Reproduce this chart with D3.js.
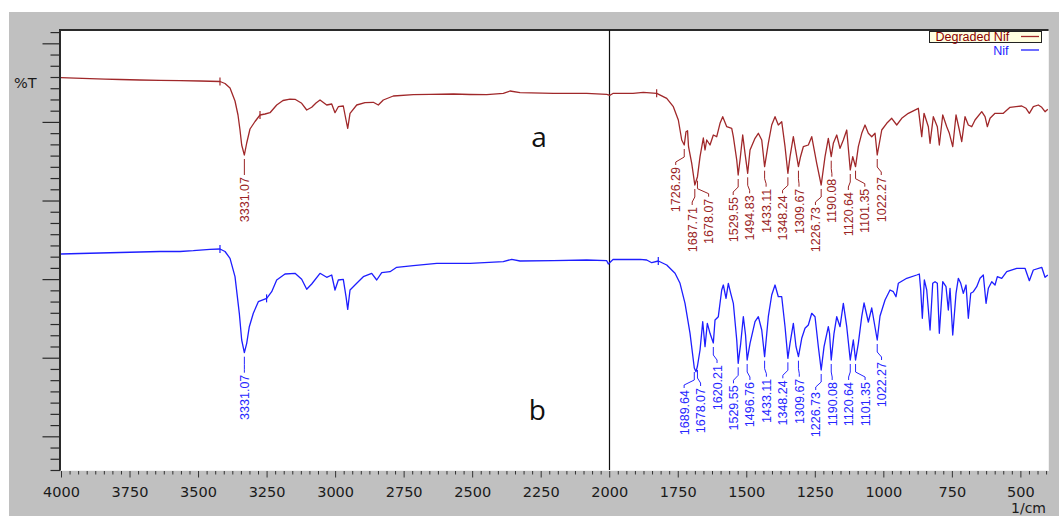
<!DOCTYPE html>
<html><head><meta charset="utf-8">
<script src="https://cdn.jsdelivr.net/npm/d3@7"></script>
<style>html,body{margin:0;padding:0;background:#fff;} svg{display:block;}</style>
</head><body>
<svg id="chart" width="1059" height="516"></svg>
<script>
// ---------------- DATA ----------------
const seriesNames = ["Degraded Nif", "Nif"];
const panelLetters = ["a", "b"];
const xUnit = "1/cm";
const yUnit = "%T";
const xTickLabels = ["4000","3750","3500","3250","3000","2750","2500","2250","2000","1750","1500","1250","1000","750","500"];

// Degraded Nif (trace a): wavenumber (1/cm) and %T (arbitrary offset scale)
const degradedWn = [4000,3948.9,3894.2,3839.5,3784.8,3711.8,3638.8,3565.9,3492.9,3419.9,3401.7,3383.4,3365.2,3354.3,3347.0,3340.8,3331.07,3322.5,3310.5,3292.2,3274.0,3255.7,3237.5,3213.1,3190.1,3164.5,3146.3,3121.9,3103.6,3085.4,3069.7,3055.1,3030.6,3012.4,3000.4,2988.3,2970.1,2960.2,2954.0,2945.6,2921.2,2890.9,2860.6,2842.4,2824.2,2787.7,2714.7,2653.8,2568.8,2507.8,2446.9,2386.4,2361.9,2325.4,2203.9,2082.1,2009.1,1997.1,1985.1,1913.2,1875.6,1826.7,1790.2,1766.1,1747.9,1735.5,1726.29,1719.8,1714.3,1710.7,1699.0,1687.71,1678.07,1668.7,1656.7,1650.5,1644.3,1632.3,1620.2,1607.8,1595.8,1585.9,1571.3,1553.1,1547.2,1534.8,1529.55,1522.8,1513.0,1504.6,1494.83,1486.3,1468.1,1456.0,1443.6,1433.11,1419.6,1407.2,1395.1,1383.1,1370.7,1358.6,1348.24,1340.4,1328.3,1309.67,1302.1,1291.9,1273.6,1261.2,1243.0,1226.73,1212.7,1200.7,1190.08,1182.4,1170.0,1158.0,1145.9,1133.5,1120.64,1111.6,1101.35,1091.2,1078.8,1066.8,1054.7,1042.3,1030.3,1022.27,1005.8,987.6,969.4,951.1,932.9,908.8,872.3,859.9,851.5,835.8,829.6,817.6,803.0,795.7,783.3,768.7,759.2,746.8,734.8,722.7,714.0,701.9,689.9,677.5,665.5,641.0,629.0,620.6,610.7,592.5,562.2,537.8,495.1,479.4,467.3,452.8,434.5,422.1,410.1,400];
const degradedT = [78.46,78.36,78.26,78.16,78.1,78.0,77.94,77.86,77.8,77.7,77.3,76.4,73.8,71.0,68.0,65.0,63.0,65.4,68.2,69.7,71.0,71.2,71.46,73.0,73.9,74.16,74.14,73.34,72.0,72.54,73.4,74.0,73.0,73.2,71.46,72.66,72.8,70.0,68.34,71.34,73.0,73.46,73.54,73.0,74.0,74.8,75.06,75.14,75.2,75.1,75.06,75.34,75.8,75.46,75.34,75.34,75.14,74.94,75.34,75.34,75.54,75.34,74.34,72.66,70.0,66.0,65.0,67.66,67.86,64.66,61.34,57.0,58.66,62.66,66.4,64.0,66.0,65.0,67.0,66.66,69.34,70.66,68.66,68.34,66.66,62.0,59.0,62.0,67.0,63.34,59.34,64.0,66.34,67.34,66.0,60.66,65.34,69.0,70.66,69.0,69.66,64.66,59.34,62.66,66.66,60.66,62.66,64.66,65.0,66.66,61.34,57.0,62.66,66.34,62.66,65.34,67.0,64.34,66.0,68.0,60.0,62.66,60.66,64.66,67.34,69.0,67.34,66.66,67.34,63.0,68.0,69.34,70.34,69.0,70.34,71.34,72.34,66.66,71.34,68.66,65.34,70.66,68.66,65.0,71.0,68.66,67.34,64.66,71.0,68.0,65.66,70.66,69.0,68.66,70.0,71.66,70.66,68.66,70.34,71.34,71.34,72.54,72.8,72.34,71.34,72.66,73.0,72.54,71.66,72.14];

// Nif (trace b)
const nifWn = [4000,3930.7,3857.7,3784.8,3711.8,3638.8,3565.9,3517.3,3456.4,3419.9,3401.7,3383.4,3365.2,3349.5,3340.8,3331.07,3322.5,3313.0,3298.4,3280.2,3249.5,3231.3,3213.1,3182.8,3146.3,3121.9,3103.6,3085.4,3055.1,3030.6,3012.4,3000.4,2988.3,2970.1,2960.2,2954.0,2945.6,2921.2,2897.1,2866.5,2848.2,2830.0,2799.7,2775.3,2714.7,2629.3,2507.8,2386.4,2355.7,2325.4,2203.9,2082.1,2009.1,2003.3,1985.1,1924.1,1887.6,1863.2,1844.9,1820.9,1790.2,1759.9,1741.7,1723.5,1705.2,1689.64,1683.3,1678.07,1668.7,1658.9,1650.5,1642.1,1632.3,1620.21,1614.0,1602.0,1589.6,1583.7,1573.9,1565.5,1556.7,1547.2,1534.8,1529.55,1520.3,1510.8,1502.7,1496.76,1486.3,1468.1,1456.0,1443.6,1433.11,1419.6,1407.2,1395.1,1383.1,1370.7,1358.6,1348.24,1340.4,1328.3,1318.5,1309.67,1297.7,1285.7,1273.6,1261.2,1249.2,1237.1,1226.73,1216.3,1200.7,1196.3,1190.08,1179.9,1170.0,1158.0,1145.9,1133.5,1120.64,1109.5,1101.35,1091.2,1078.8,1070.4,1054.7,1042.3,1022.27,1012.1,993.8,975.6,963.5,953.7,945.3,914.6,878.1,868.7,863.6,857.7,850.4,841.7,829.6,819.8,811.4,803.0,795.7,783.3,771.3,762.9,756.7,746.8,734.8,726.4,717.6,708.2,698.3,689.9,681.1,671.6,659.3,647.2,635.2,625.3,616.9,604.5,592.5,584.1,568.1,549.8,513.3,483.1,467.3,452.8,422.1,410.1,400];
const nifT = [43.2,43.3,43.4,43.5,43.6,43.7,43.7,43.86,44.14,44.2,43.7,42.34,38.66,31.34,26.0,23.46,25.34,28.66,31.34,33.66,34.34,35.66,38.0,39.2,39.34,38.14,36.14,37.2,39.34,38.54,39.0,36.0,38.0,38.14,34.66,32.14,36.0,37.34,38.66,39.34,38.0,39.46,39.66,40.54,40.86,41.34,41.34,41.66,42.14,41.8,41.86,42.0,41.86,41.2,42.14,42.1,42.14,42.0,41.46,41.8,41.0,39.34,37.34,33.34,27.34,20.4,19.66,20.8,24.0,29.66,24.66,29.34,27.34,25.4,30.0,30.66,36.0,37.0,34.34,37.34,35.34,33.34,26.0,21.34,25.34,30.66,27.0,22.0,25.34,29.66,30.66,28.0,22.66,30.66,35.0,37.0,34.66,34.66,28.66,22.34,25.34,29.34,24.66,22.66,26.34,28.34,29.0,31.34,30.66,24.66,20.0,24.66,28.66,27.34,22.0,27.34,30.66,28.66,33.34,28.66,22.0,26.0,22.0,25.34,30.66,33.4,29.6,32.4,26.0,30.8,34.0,36.0,35.66,34.66,37.34,38.34,39.0,39.2,36.0,30.34,38.0,36.0,28.0,37.34,37.66,37.34,27.34,37.66,36.66,32.0,36.34,27.0,35.34,38.34,37.34,35.34,37.0,30.34,35.34,35.66,36.66,38.34,39.0,33.34,36.34,37.66,37.0,38.66,38.34,39.66,40.34,40.34,37.86,40.0,40.54,38.54,39.0];

// Peak labels (1/cm)
const degradedPeaks = [3331.07,1726.29,1687.71,1678.07,1529.55,1494.83,1433.11,1348.24,1309.67,1226.73,1190.08,1120.64,1101.35,1022.27];
const nifPeaks = [3331.07,1689.64,1678.07,1620.21,1529.55,1496.76,1433.11,1348.24,1309.67,1226.73,1190.08,1120.64,1101.35,1022.27];
// Baseline markers (small crosses on the traces)
const degradedMarkers = [3420, 3274, 1827];
const nifMarkers = [3420, 3250, 1821];
// Vertical cursor line
const cursorWn = [2000];

// ---------------- DRAWING ----------------
const W = 1059, H = 516;
const P = {left: 61, right: 1047.8, top: 30, bottom: 470};
const colors = ["#a0282a", "#1e1eff"];
const labelColors = ["#9a2424", "#2626ff"];

const svg = d3.select("#chart");
const x = d3.scaleLinear().domain([4000, 400]).range([P.left, P.right]);
const y = d3.scaleLinear().domain([0, 88]).range([P.bottom, P.top]);

svg.append("rect").attr("width", W).attr("height", H).attr("fill", "#fff");
svg.append("rect").attr("x", 9).attr("y", 12).attr("width", W - 9).attr("height", H - 12).attr("fill", "#c0c0c0");
svg.append("rect").attr("x", P.left).attr("y", P.top).attr("width", 1048 - P.left).attr("height", P.bottom - P.top).attr("fill", "#fff");

// borders
svg.append("line").attr("x1", 59.5).attr("x2", 1048.5).attr("y1", 30).attr("y2", 30).attr("stroke", "#2a2a2a").attr("stroke-width", 2);
svg.append("line").attr("x1", 60).attr("x2", 60).attr("y1", 29).attr("y2", 470.5).attr("stroke", "#2a2a2a").attr("stroke-width", 2);
svg.append("line").attr("x1", 1048.5).attr("x2", 1048.5).attr("y1", 31).attr("y2", 471).attr("stroke", "#f2f2f2").attr("stroke-width", 1);
svg.append("line").attr("x1", 61).attr("x2", 1049).attr("y1", 470.5).attr("y2", 470.5).attr("stroke", "#f2f2f2").attr("stroke-width", 1);

// x axis
const majorX = xTickLabels.map(Number);
const minorX = d3.range(0, 116).map(k => 4000 - k * 31.25).filter(v => !majorX.includes(v));
const axMinor = svg.append("g").attr("transform", "translate(0,471)")
  .call(d3.axisBottom(x).tickValues(minorX).tickSize(3.5).tickFormat(""));
const axMajor = svg.append("g").attr("transform", "translate(0,471)")
  .call(d3.axisBottom(x).tickValues(majorX).tickSize(6.5).tickPadding(9).tickFormat((d, i) => xTickLabels[i]));
[axMinor, axMajor].forEach(g => {
  g.select(".domain").remove();
  g.selectAll(".tick line").attr("stroke", "#333");
});
axMajor.selectAll(".tick text").attr("font-family", "DejaVu Sans").attr("font-size", 14.5).attr("fill", "#1a1a1a");
svg.append("text").attr("x", 1046).attr("y", 512.5).attr("text-anchor", "end")
  .attr("font-family", "DejaVu Sans").attr("font-size", 14).attr("fill", "#1a1a1a").text(xUnit);

// y axis (unlabelled ruler)
const yStep = 2.2457;
const yTicksAll = d3.range(0, 40).map(k => k * yStep);
const yMajor = yTicksAll.filter((v, k) => k % 7 === 3);
const yMinor = yTicksAll.filter((v, k) => k % 7 !== 3);
const ayMinor = svg.append("g").attr("transform", "translate(60,0)")
  .call(d3.axisLeft(y).tickValues(yMinor).tickSize(9.5).tickFormat(""));
const ayMajor = svg.append("g").attr("transform", "translate(60,0)")
  .call(d3.axisLeft(y).tickValues(yMajor).tickSize(17.5).tickFormat(""));
[ayMinor, ayMajor].forEach(g => {
  g.select(".domain").remove();
  g.selectAll(".tick line").attr("stroke", "#2a2a2a").attr("stroke-width", 1.2);
});
svg.append("text").attr("x", 14).attr("y", 88).attr("font-family", "DejaVu Sans").attr("font-size", 14.5)
  .attr("fill", "#1a1a1a").text(yUnit);

// clip
svg.append("clipPath").attr("id", "plotclip").append("rect")
  .attr("x", P.left).attr("y", P.top).attr("width", 1048 - P.left).attr("height", P.bottom - P.top);
const plot = svg.append("g").attr("clip-path", "url(#plotclip)");

// cursor line
plot.selectAll(".cursor").data(cursorWn).enter().append("line")
  .attr("x1", d => Math.round(x(d)) + 0.5).attr("x2", d => Math.round(x(d)) + 0.5)
  .attr("y1", P.top).attr("y2", P.bottom).attr("stroke", "#111").attr("stroke-width", 1.2);

const series = [
  {name: seriesNames[0], wn: degradedWn, t: degradedT, peaks: degradedPeaks, markers: degradedMarkers, color: colors[0], lcolor: labelColors[0]},
  {name: seriesNames[1], wn: nifWn, t: nifT, peaks: nifPeaks, markers: nifMarkers, color: colors[1], lcolor: labelColors[1]}
];

function valueAt(s, w) {
  for (let i = 0; i < s.wn.length - 1; i++) {
    const a = s.wn[i], b = s.wn[i + 1];
    if (w <= a && w >= b) {
      const f = a === b ? 0 : (a - w) / (a - b);
      return s.t[i] + f * (s.t[i + 1] - s.t[i]);
    }
  }
  return s.t[s.t.length - 1];
}

function placeLabels(xs, gap) {
  const clusters = [];
  xs.forEach(px => {
    clusters.push({sum: px, n: 1});
    while (clusters.length > 1) {
      const c = clusters[clusters.length - 1], p = clusters[clusters.length - 2];
      const pc = p.sum / p.n, cc = c.sum / c.n;
      const pEnd = pc + (p.n - 1) / 2 * gap, cStart = cc - (c.n - 1) / 2 * gap;
      if (cStart - pEnd < gap) {
        clusters.pop(); clusters.pop();
        clusters.push({sum: p.sum + c.sum, n: p.n + c.n});
      } else break;
    }
  });
  const out = [];
  clusters.forEach(c => {
    const ctr = c.sum / c.n;
    for (let i = 0; i < c.n; i++) out.push(ctr + (i - (c.n - 1) / 2) * gap);
  });
  return out;
}

const line = d3.line().x(d => x(d[0])).y(d => y(d[1]));

series.forEach(s => {
  const pts = s.wn.map((w, i) => [w, s.t[i]]);
  plot.append("path").datum(pts).attr("d", line).attr("fill", "none")
    .attr("stroke", s.color).attr("stroke-width", 1.3).attr("stroke-linejoin", "round");
  // markers
  plot.selectAll(null).data(s.markers).enter().append("line")
    .attr("x1", d => x(d)).attr("x2", d => x(d))
    .attr("y1", d => y(valueAt(s, d)) - 4).attr("y2", d => y(valueAt(s, d)) + 4)
    .attr("stroke", s.color).attr("stroke-width", 1.2);
  // peak labels
  const sorted = s.peaks.slice().sort((a, b) => b - a);
  const pxs = sorted.map(w => x(w));
  const lxs = placeLabels(pxs, 16.45);
  const g = svg.append("g");
  sorted.forEach((w, i) => {
    const px = x(w), py = y(valueAt(s, w)), lx = lxs[i];
    g.append("path")
      .attr("d", `M${px},${py + 4}V${py + 12}L${lx},${py + 17}V${py + 20}`)
      .attr("fill", "none").attr("stroke", s.lcolor).attr("stroke-width", 1);
    g.append("text")
      .attr("transform", `translate(${lx},${py + 22}) rotate(-90)`)
      .attr("text-anchor", "end").attr("dy", "0.36em")
      .attr("font-family", "Liberation Sans").attr("font-size", 12.5)
      .attr("fill", s.lcolor).text(w.toFixed(2));
  });
});

// panel letters
const letterPos = [[2256, 64.6], [2262, 10]];
panelLetters.forEach((L, i) => {
  svg.append("text").attr("x", x(letterPos[i][0])).attr("y", y(letterPos[i][1]))
    .attr("text-anchor", "middle").attr("font-family", "Open Sans").attr("font-size", 28)
    .attr("fill", "#111").text(L);
});

// legend
const leg = svg.append("g");
leg.append("rect").attr("x", 929.5).attr("y", 31.5).attr("width", 112).attr("height", 11)
  .attr("fill", "#ffffe1").attr("stroke", "#222").attr("stroke-width", 1);
series.forEach((s, i) => {
  const yy = 41 + i * 13.5;
  leg.append("text").attr("x", i === 0 ? 935.5 : 1008.5).attr("y", yy)
    .attr("text-anchor", i === 0 ? "start" : "end")
    .attr("font-family", "Liberation Sans").attr("font-size", 12.5)
    .attr("fill", i === 0 ? "#8b0000" : "#1e1eff").text(s.name);
  leg.append("line").attr("x1", 1021).attr("x2", 1039).attr("y1", yy - 4.5).attr("y2", yy - 4.5)
    .attr("stroke", s.color).attr("stroke-width", 1.3);
});
</script>
</body></html>
